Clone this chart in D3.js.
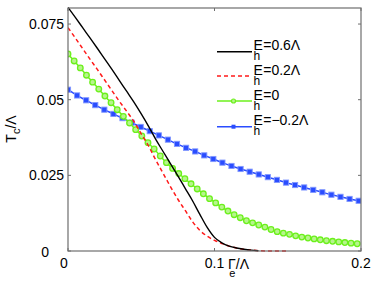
<!DOCTYPE html>
<html><head><meta charset="utf-8">
<script src="https://cdn.jsdelivr.net/npm/d3@7"></script>
<style>body{margin:0;background:#fff} svg{display:block} text{font-family:"Liberation Sans",Arial,Helvetica,sans-serif;fill:#000}</style>
</head><body><svg id="c" width="374" height="282"></svg>
<script>
// ---- data ----
const xTicks = [0, 0.1, 0.2];
const xTickLabels = ["0", "0.1", "0.2"];
const yTicks = [0, 0.025, 0.05, 0.075];
const yTickLabels = ["0", "0.025", "0.05", "0.075"];
const seriesLabels = ["=0.6Λ", "=0.2Λ", "=0", "=−0.2Λ"];

const blackX = [0,0.005,0.01,0.015,0.02,0.025,0.03,0.035,0.04,0.045,0.05,0.055,0.06,0.065,0.07,0.075,0.08,0.085,0.09,0.095,0.1,0.105,0.11,0.115,0.12,0.125,0.13];
const blackY = [0.0805,0.0772,0.0738,0.0704,0.0670,0.0635,0.0600,0.0564,0.0528,0.0492,0.0453,0.0412,0.0368,0.0328,0.0288,0.0248,0.0207,0.0166,0.0121,0.0078,0.0045,0.0027,0.0016,0.0010,0.0006,0.0003,0.0001];

const redX = [0,0.005,0.01,0.015,0.02,0.025,0.03,0.035,0.04,0.045,0.05,0.055,0.06,0.065,0.07,0.075,0.08,0.085,0.09,0.095,0.1,0.105,0.11,0.115,0.12,0.125,0.13,0.135,0.14,0.145,0.15];
const redY = [0.0738,0.0704,0.0669,0.0634,0.0600,0.0565,0.0530,0.0495,0.0462,0.0428,0.0387,0.0347,0.0300,0.0256,0.0212,0.0171,0.0134,0.0097,0.0068,0.0049,0.0035,0.0025,0.0016,0.0010,0.0006,0.0003,0.0001,0,0,0,0];

const greenX = [0,0.0042,0.0084,0.0126,0.0168,0.021,0.0252,0.0294,0.0336,0.0378,0.042,0.0462,0.0504,0.0546,0.0588,0.063,0.0672,0.0714,0.0756,0.0798,0.084,0.0882,0.0924,0.0966,0.1008,0.105,0.1092,0.1134,0.1176,0.1218,0.126,0.1302,0.1344,0.1386,0.1428,0.147,0.1512,0.1554,0.1596,0.1638,0.168,0.1722,0.1764,0.1806,0.1848,0.189,0.1932,0.1974];
const greenY = [0.0651,0.0628,0.0605,0.0581,0.0558,0.0535,0.0512,0.0490,0.0467,0.0445,0.0423,0.0401,0.0380,0.0358,0.0337,0.0314,0.0292,0.0273,0.0256,0.0239,0.0222,0.0205,0.0189,0.0173,0.0159,0.0145,0.0132,0.0120,0.0110,0.0100,0.0093,0.0086,0.0079,0.0071,0.0064,0.0059,0.0055,0.0050,0.0046,0.0043,0.0040,0.0037,0.0034,0.0032,0.0030,0.0028,0.0026,0.0024];

const blueX = [0,0.0062,0.0124,0.0186,0.0248,0.031,0.0372,0.0434,0.0496,0.0558,0.062,0.0682,0.0744,0.0806,0.0868,0.093,0.0992,0.1054,0.1116,0.1178,0.124,0.1302,0.1364,0.1426,0.1488,0.155,0.1612,0.1674,0.1736,0.1798,0.186,0.1922,0.1984];
const blueY = [0.0533,0.0514,0.0498,0.0482,0.0467,0.0453,0.0439,0.0424,0.0410,0.0396,0.0382,0.0368,0.0354,0.0341,0.0329,0.0316,0.0304,0.0292,0.0281,0.0271,0.0262,0.0253,0.0244,0.0235,0.0226,0.0218,0.0210,0.0202,0.0194,0.0186,0.0179,0.0172,0.0166];

// ---- layout ----
const L = 68, R = 361, T = 8, B = 251;
const svg = d3.select("#c");
const x = d3.scaleLinear().domain([0, 0.2]).range([L, R]);
const y = d3.scaleLinear().domain([0, 0.0803]).range([B, T]);
const axisColor = "#6e6e6e";
const BLACK = "#000", RED = "#ff1a1a", GREEN = "#6cf01c", BLUE = "#2a4dff";

svg.append("defs").append("clipPath").attr("id", "clip")
  .append("rect").attr("x", L).attr("y", T - 1).attr("width", R - L).attr("height", B - T + 2);

const g = svg.append("g").attr("clip-path", "url(#clip)");
const line = d3.line().x(d => x(d[0])).y(d => y(d[1])).curve(d3.curveMonotoneX);
const zip = (a, b) => a.map((v, i) => [v, b[i]]);

g.append("path").attr("d", line(zip(blueX, blueY))).attr("fill", "none").attr("stroke", BLUE).attr("stroke-width", 1.5);
g.selectAll(".sq").data(zip(blueX, blueY)).join("rect")
  .attr("x", d => x(d[0]) - 2.6).attr("y", d => y(d[1]) - 2.6).attr("width", 5.2).attr("height", 5.2)
  .attr("fill", BLUE).attr("stroke", "#8197ff").attr("stroke-width", 0.9);

g.append("path").attr("d", line(zip(greenX, greenY))).attr("fill", "none").attr("stroke", GREEN).attr("stroke-width", 1.5);
g.selectAll(".ci").data(zip(greenX, greenY)).join("circle")
  .attr("cx", d => x(d[0])).attr("cy", d => y(d[1])).attr("r", 2.8)
  .attr("fill", "#b6f58c").attr("stroke", GREEN).attr("stroke-width", 1.3);

g.append("path").attr("d", line(zip(redX, redY))).attr("fill", "none").attr("stroke", RED).attr("stroke-width", 1.5).attr("stroke-dasharray", "4,3");
g.append("path").attr("d", line(zip(blackX, blackY))).attr("fill", "none").attr("stroke", BLACK).attr("stroke-width", 1.4);

// ---- axes box + ticks ----
const ax = svg.append("g");
ax.append("rect").attr("x", L).attr("y", T).attr("width", R - L).attr("height", B - T)
  .attr("fill", "none").attr("stroke", axisColor).attr("stroke-width", 1.2);
const tl = 3;
xTicks.forEach(v => {
  ax.append("line").attr("x1", x(v)).attr("x2", x(v)).attr("y1", B).attr("y2", B - tl).attr("stroke", axisColor);
  ax.append("line").attr("x1", x(v)).attr("x2", x(v)).attr("y1", T).attr("y2", T + tl).attr("stroke", axisColor);
});
yTicks.forEach(v => {
  ax.append("line").attr("x1", L).attr("x2", L + tl).attr("y1", y(v)).attr("y2", y(v)).attr("stroke", axisColor);
  ax.append("line").attr("x1", R).attr("x2", R - tl).attr("y1", y(v)).attr("y2", y(v)).attr("stroke", axisColor);
});

// tick labels
const fs = 14;
xTicks.forEach((v, i) => {
  svg.append("text").attr("x", x(v) + (i === 0 ? -4 : 0)).attr("y", 268)
    .attr("text-anchor", "middle").attr("font-size", fs).text(xTickLabels[i]);
});
yTicks.forEach((v, i) => {
  const isZero = i === 0;
  svg.append("text").attr("x", isZero ? 49 : 64).attr("y", y(v) + 5 + (isZero ? 1 : 0))
    .attr("text-anchor", "end").attr("font-size", fs).text(yTickLabels[i]);
});

// axis labels (subscript placed under the preceding letter, as in the original)
const xl = svg.append("text").attr("x", 228).attr("y", 269).attr("font-size", fs);
xl.append("tspan").text("Γ");
xl.append("tspan").attr("dx", -6.5).attr("dy", 8).attr("font-size", 11).text("e");
xl.append("tspan").attr("dx", 0.5).attr("dy", -8).text("/Λ");

const yl = svg.append("text").attr("transform", "translate(16,129) rotate(-90)")
  .attr("text-anchor", "middle").attr("font-size", fs);
yl.append("tspan").text("T");
yl.append("tspan").attr("dy", 4).attr("font-size", 11).text("c");
yl.append("tspan").attr("dy", -4).text("/Λ");

// ---- legend ----
const legY = [51.7, 76, 101, 126.7];
const lx1 = 217, lx2 = 252;
const styles = [
  {c: BLACK, dash: null, m: null},
  {c: RED, dash: "4,3", m: null},
  {c: GREEN, dash: null, m: "circle"},
  {c: BLUE, dash: null, m: "square"}
];
styles.forEach((s, i) => {
  const ly = legY[i];
  const ln = svg.append("line").attr("x1", lx1).attr("x2", lx2).attr("y1", ly).attr("y2", ly)
    .attr("stroke", s.c).attr("stroke-width", 1.5);
  if (s.dash) ln.attr("stroke-dasharray", s.dash);
  const mx = (lx1 + lx2) / 2 - 1;
  if (s.m === "circle") svg.append("circle").attr("cx", mx).attr("cy", ly).attr("r", 2)
    .attr("fill", "#b6f58c").attr("stroke", GREEN).attr("stroke-width", 1.2);
  if (s.m === "square") svg.append("rect").attr("x", mx - 2).attr("y", ly - 2).attr("width", 4).attr("height", 4)
    .attr("fill", BLUE);
  const t = svg.append("text").attr("x", 253.5).attr("y", ly - 1.5).attr("font-size", fs);
  t.append("tspan").text("E");
  t.append("tspan").attr("dx", -9.3).attr("dy", 10).attr("font-size", 12).text("h");
  t.append("tspan").attr("dx", 3).attr("dy", -10).text(seriesLabels[i]);
});
</script>
</body></html>
